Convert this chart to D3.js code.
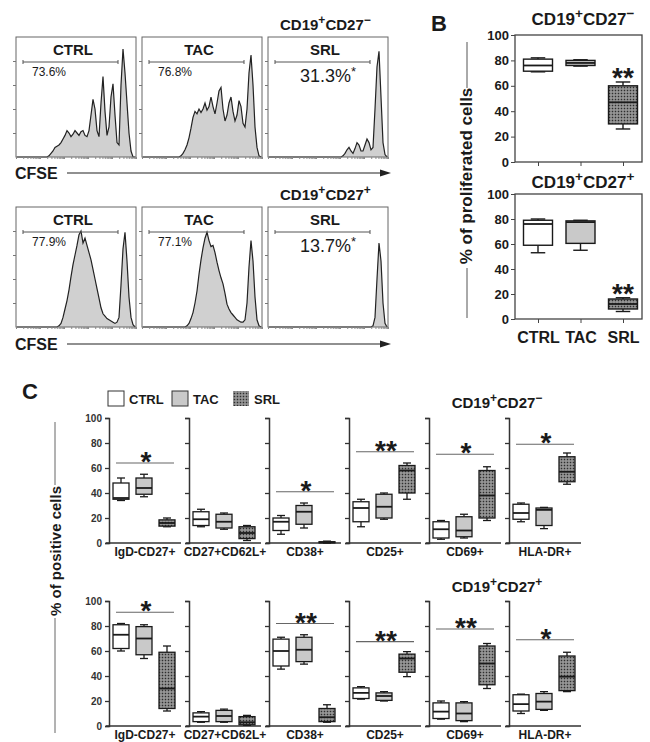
<!DOCTYPE html>
<html>
<head>
<meta charset="utf-8">
<script src="https://cdnjs.cloudflare.com/ajax/libs/d3/7.8.5/d3.min.js"></script>
<style>
  body { margin: 0; background: #fff; }
  svg { display: block; font-family: "Liberation Sans", Arial, sans-serif; }
</style>
</head>
<body>
<svg id="fig" width="650" height="742"></svg>
<script>
// ---------- data ----------
const groups = ["CTRL", "TAC", "SRL"];

// CFSE histograms: height (% of frame) per channel bin, low -> high CFSE
const cfseNegCtrl = [0,0,0,0,0,0,0,0,0,0,0,0,0,0,0,0, 1,3,5,8,9,10,12,15,18,22, 20,17,19,22,20,18,21,22,18,17, 22,35,48,40,22,17,45,67,38,18, 25,50,61,35,12,10,60,90,70,45, 20,5,0,0];
const cfseNegTac  = [0,0,0,0,0,0,0,0,0,0,0,0,0,0,0,0,0,0,0, 1,3,6,10,16,24,33,38,36,40, 37,40,45,39,42,50,42,36,45,55, 58,40,30,35,45,50,38,30,35,47, 42,28,25,40,70,85,60,25,8,1, 0];
const cfseNegSrl  = [0,0,0,0,0,0,0,0,0,0,0,0,0,0,0,0,0,0,0,0,0,0,0,0,0,0,0,0,0,0,0,0,0,0,0,0,0, 1,3,6,8,5,3,7,12,10,5, 5,10,15,12,6,8,40,75,88,50, 12,2,0];
const cfsePosCtrl = [0,0,0,0,0,0,0,0,0,0,0,0,0,0,0,0,0,0,0,0,0, 1,3,8,15,22,31,42,52,60,68, 77,80,70,74,68,62,56,48,40,32, 24,16,11,9,7,6,5,4,3,4, 8,35,65,79,55,25,8,2,0];
const cfsePosTac  = [0,0,0,0,0,0,0,0,0,0,0,0,0,0,0,0,0,0,0,0,0,0, 1,3,7,12,20,30,44,56,66,74, 79,72,67,68,62,54,47,41,36,28, 19,15,12,10,8,6,5,4,4,6, 20,50,72,55,25,6,1,0];
const cfsePosSrl  = [0,0,0,0,0,0,0,0,0,0,0,0,0,0,0,0,0,0,0,0,0,0,0,0,0,0,0,0,0,0,0,0,0,0,0,0,0,0,0,0,0,0,0,0,0,0,0,0,0,0,0,0, 1,8,40,70,55,20,3,0];
const pctNeg = ["73.6%", "76.8%", "31.3%"];
const pctPos = ["77.9%", "77.1%", "13.7%"];

// panel B: [min, q1, median, q3, max] for CTRL, TAC, SRL
const bNeg = [[71, 71.5, 76, 81, 82], [75.5, 76, 78, 80, 80.5], [26, 30, 47, 60, 63]];
const bPos = [[53, 59, 76, 79, 80], [55, 60.5, 77.5, 78.5, 79], [6, 8, 12, 16, 17]];

// panel C
const markers = ["IgD-CD27+", "CD27+CD62L+", "CD38+", "CD25+", "CD69+", "HLA-DR+"];
const cNegCtrl = [[34,35,36,48,52],[13,14,19,25,27],[7,10,17,20,22],[13,17,28,33,35],[3,4,11,17,18],[17,19,24,31,32]];
const cNegTac  = [[37,39,44,52,55],[11,12,17,23,24],[12,15,25,30,32],[19,20,29,39,40],[4,5,10,21,23],[11.5,14,26.5,28,28.5]];
const cNegSrl  = [[13,13.5,16,18.5,20],[2,3.5,8,13,14],[0,0.3,0.5,1,1.5],[35,40,58,62,64],[18,20,38,58,61],[47,49,57,69,72]];
const cPosCtrl = [[60,62,73,81,82],[3,3.5,7.5,10.5,11.5],[45.5,48,60,69.5,71],[21.5,22,26.5,30.5,31.5],[5.5,6,11.5,18.5,20],[10,12,17.5,25,25.5]];
const cPosTac  = [[54,57,70,79.5,81],[3,3.5,8,12.5,13.5],[49.5,51.5,61,71,73],[20,20.5,24,26.5,27.5],[3.5,4.3,10,18.5,19.5],[12.5,13.3,19.5,26,27.5]];
const cPosSrl  = [[12,14,30,59,64],[0.5,1,3,7.5,8.5],[3,3.5,7,14,17],[39.5,43,54,57.5,59.5],[30,33,50,64,66],[27.5,28.3,39.5,56,59]];
const sigNeg = [64, null, 41, 73, 71, 79];
const sigNegLabel = ["*", "", "*", "**", "*", "*"];
const sigPos = [91, null, 82, 67.5, 77.6, 69];
const sigPosLabel = ["*", "", "**", "**", "**", "*"];

// ---------- drawing ----------
const svg = d3.select("#fig");
const ink = "#1a1a1a";

const pat = svg.append("defs").append("pattern")
    .attr("id", "hatch").attr("width", 3).attr("height", 3)
    .attr("patternUnits", "userSpaceOnUse");
pat.append("rect").attr("width", 3).attr("height", 3).attr("fill", "#7e7e7e");
pat.append("rect").attr("width", 1).attr("height", 1).attr("fill", "#2e2e2e");
pat.append("rect").attr("x", 1.5).attr("y", 1.5).attr("width", 1).attr("height", 1).attr("fill", "#d6d6d6");

const fills = { CTRL: "#ffffff", TAC: "#c9c9c9", SRL: "url(#hatch)" };

// CD19+CD27± title with superscripts
function cdTitle(x, y, sign, size, anchor) {
  const t = svg.append("text")
      .attr("x", x).attr("y", y)
      .attr("font-size", size).attr("font-weight", "bold")
      .attr("fill", ink).attr("text-anchor", anchor || "start");
  const up = size * 0.42;
  t.append("tspan").text("CD19");
  t.append("tspan").attr("dy", -up).attr("font-size", size * 0.8).text("+");
  t.append("tspan").attr("dy", up).text("CD27");
  t.append("tspan").attr("dy", -up).attr("font-size", size * 0.8).text(sign);
}

function drawBox(g, cx, w, s, y, fill) {
  g.append("line").attr("x1", cx).attr("x2", cx).attr("y1", y(s[0])).attr("y2", y(s[1]));
  g.append("line").attr("x1", cx).attr("x2", cx).attr("y1", y(s[3])).attr("y2", y(s[4]));
  [s[0], s[4]].forEach(v => {
    g.append("line").attr("x1", cx - w / 4).attr("x2", cx + w / 4).attr("y1", y(v)).attr("y2", y(v));
  });
  g.append("rect")
      .attr("x", cx - w / 2).attr("y", y(s[3]))
      .attr("width", w).attr("height", Math.max(1, y(s[1]) - y(s[3])))
      .attr("fill", fill);
  g.append("line").attr("x1", cx - w / 2).attr("x2", cx + w / 2)
      .attr("y1", y(s[2])).attr("y2", y(s[2])).attr("stroke-width", 1.8);
}

// ---------- panel A: CFSE histograms ----------
const histLeft = [16, 142, 268];
const histRows = [
  { top: 37, data: [cfseNegCtrl, cfseNegTac, cfseNegSrl], pct: pctNeg, sign: "−", titleY: 30, cfseY: 173 },
  { top: 207, data: [cfsePosCtrl, cfsePosTac, cfsePosSrl], pct: pctPos, sign: "+", titleY: 200, cfseY: 344 }
];

histRows.forEach(row => {
  row.data.forEach((d, k) => {
    const x0 = histLeft[k];
    const x = d3.scaleLinear().domain([0, d.length - 1]).range([x0 + 1, x0 + 119]);
    const y = d3.scaleLinear().domain([0, 100]).range([row.top + 120, row.top]);
    const g = svg.append("g");

    g.append("path").datum(d)
        .attr("d", d3.area().x((v, i) => x(i)).y0(y(0)).y1(v => y(v)))
        .attr("fill", "#d0d0d0");
    g.append("path").datum(d)
        .attr("d", d3.line().x((v, i) => x(i)).y(v => y(v)))
        .attr("fill", "none").attr("stroke", "#222").attr("stroke-width", 1.2);

    g.append("rect").attr("x", x0).attr("y", row.top).attr("width", 120).attr("height", 120)
        .attr("fill", "none").attr("stroke", "#666");

    const ya = g.append("g").attr("transform", "translate(" + x0 + ",0)")
        .call(d3.axisLeft(y).tickValues([20, 40, 60, 80]).tickSize(3).tickFormat(""));
    ya.select(".domain").remove();
    ya.selectAll("line").attr("stroke", "#777");

    const logX = d3.scaleLog().domain([1, 1e5]).range([x0, x0 + 120]);
    const xa = g.append("g").attr("transform", "translate(0," + (row.top + 120) + ")")
        .call(d3.axisBottom(logX).tickSize(2).tickFormat(""));
    xa.select(".domain").remove();
    xa.selectAll("line").attr("stroke", "#888");

    // gate
    const gy = row.top + 25;
    g.append("line").attr("x1", x0 + 7).attr("x2", x0 + 102).attr("y1", gy).attr("y2", gy)
        .attr("stroke", "#555");
    [x0 + 7, x0 + 102].forEach(gx => g.append("line").attr("x1", gx).attr("x2", gx)
        .attr("y1", gy - 2).attr("y2", gy + 2).attr("stroke", "#555"));

    g.append("text").attr("x", x0 + 57).attr("y", row.top + 18)
        .attr("text-anchor", "middle").attr("font-size", 15).attr("font-weight", "bold")
        .attr("fill", ink).text(groups[k]);

    if (k < 2) {
      g.append("text").attr("x", x0 + 16).attr("y", row.top + 39)
          .attr("font-size", 12).attr("fill", ink).text(row.pct[k]);
    } else {
      const t = g.append("text").attr("x", x0 + 32).attr("y", row.top + 45)
          .attr("font-size", 18).attr("fill", ink).text(row.pct[k]);
      t.append("tspan").attr("dy", -6).attr("font-size", 13).text("*");
    }
  });

  cdTitle(280, row.titleY, row.sign, 15);

  svg.append("text").attr("x", 15).attr("y", row.cfseY + 6)
      .attr("font-size", 16).attr("font-weight", "bold").attr("fill", ink).text("CFSE");
  svg.append("line").attr("x1", 67).attr("x2", 382).attr("y1", row.cfseY).attr("y2", row.cfseY)
      .attr("stroke", "#222").attr("stroke-width", 1.2);
  svg.append("path")
      .attr("d", "M380," + (row.cfseY - 3.5) + "L391," + row.cfseY + "L380," + (row.cfseY + 3.5) + "Z")
      .attr("fill", "#222");
});

// ---------- panel B ----------
svg.append("text").attr("x", 431).attr("y", 31).attr("font-size", 22)
    .attr("font-weight", "bold").attr("fill", ink).text("B");

const bx = d3.scalePoint().domain(groups).range([538, 623]);
const bRows = [
  { stats: bNeg, top: 35, bottom: 162, sign: "−", titleY: 25 },
  { stats: bPos, top: 194, bottom: 319, sign: "+", titleY: 188 }
];

bRows.forEach((row, r) => {
  const y = d3.scaleLinear().domain([0, 100]).range([row.bottom, row.top]);
  const g = svg.append("g").attr("stroke", ink).attr("stroke-width", 1.4);

  g.append("rect").attr("x", 515).attr("y", row.top).attr("width", 127).attr("height", row.bottom - row.top)
      .attr("fill", "none").attr("stroke", "#444").attr("stroke-width", 1.3);

  const ya = svg.append("g").attr("transform", "translate(515,0)")
      .call(d3.axisLeft(y).tickValues([0, 20, 40, 60, 80, 100]).tickSize(4).tickPadding(2));
  ya.select(".domain").remove();
  ya.selectAll("line").attr("stroke", "#444");
  ya.selectAll("text").attr("font-size", 13).attr("font-weight", "bold")
      .attr("fill", ink).attr("font-family", "Liberation Sans, Arial, sans-serif");

  const xa = svg.append("g").attr("transform", "translate(0," + row.bottom + ")")
      .call(d3.axisBottom(bx).tickSize(4).tickPadding(9).tickFormat(r === 1 ? (d => d) : ""));
  xa.select(".domain").remove();
  xa.selectAll("line").attr("stroke", "#444");
  xa.selectAll("text").attr("font-size", 16).attr("font-weight", "bold")
      .attr("fill", ink).attr("font-family", "Liberation Sans, Arial, sans-serif");

  row.stats.forEach((s, k) => drawBox(g, bx(groups[k]), 29, s, y, fills[groups[k]]));

  svg.append("text").attr("x", bx("SRL")).attr("y", y(row.stats[2][4]) + 5)
      .attr("text-anchor", "middle").attr("font-size", 28).attr("font-weight", "bold")
      .attr("fill", ink).text("**");

  cdTitle(583, row.titleY, row.sign, 17, "middle");
});

svg.append("text")
    .attr("transform", "translate(472,176) rotate(-90)")
    .attr("text-anchor", "middle").attr("font-size", 17).attr("font-weight", "bold")
    .attr("fill", ink).text("% of proliferated cells");
[[42, 88], [268, 318]].forEach(p => svg.append("line")
    .attr("x1", 467).attr("x2", 467).attr("y1", p[0]).attr("y2", p[1])
    .attr("stroke", "#555"));

// ---------- panel C ----------
svg.append("text").attr("x", 22).attr("y", 399).attr("font-size", 22)
    .attr("font-weight", "bold").attr("fill", ink).text("C");

// legend
const legX = [108, 172, 233];
groups.forEach((gname, k) => {
  svg.append("rect").attr("x", legX[k]).attr("y", 391).attr("width", 16).attr("height", 15)
      .attr("fill", fills[gname]).attr("stroke", k < 2 ? "#333" : "none");
  svg.append("text").attr("x", legX[k] + 21).attr("y", 404)
      .attr("font-size", 13).attr("font-weight", "bold").attr("fill", ink).text(gname);
});

const cRows = [
  { data: [cNegCtrl, cNegTac, cNegSrl], sig: sigNeg, sigLabel: sigNegLabel, top: 418, bottom: 543, sign: "−", titleY: 408 },
  { data: [cPosCtrl, cPosTac, cPosSrl], sig: sigPos, sigLabel: sigPosLabel, top: 601, bottom: 726, sign: "+", titleY: 592 }
];

cRows.forEach(row => {
  const y = d3.scaleLinear().domain([0, 100]).range([row.bottom, row.top]);
  markers.forEach((m, i) => {
    const x0 = 109 + i * 80;
    const cx = d3.scalePoint().domain(groups).range([x0 + 12, x0 + 58]);

    const ya = svg.append("g").attr("transform", "translate(" + x0 + ",0)")
        .call(d3.axisLeft(y).tickValues([0, 20, 40, 60, 80, 100]).tickSize(4).tickPadding(3)
          .tickFormat(i === 0 ? d3.format("d") : ""));
    ya.select(".domain").attr("stroke", "#333").attr("stroke-width", 1.5);
    ya.selectAll("line").attr("stroke", "#333").attr("stroke-width", 1.3);
    ya.selectAll("text").attr("font-size", 10).attr("font-weight", "bold")
        .attr("fill", "#333").attr("font-family", "Liberation Sans, Arial, sans-serif");

    svg.append("line").attr("x1", x0 - 3).attr("x2", x0 + 72)
        .attr("y1", y(0)).attr("y2", y(0)).attr("stroke", "#333").attr("stroke-width", 1.6);

    const g = svg.append("g").attr("stroke", ink).attr("stroke-width", 1.3);
    row.data.forEach((arr, k) => drawBox(g, cx(groups[k]), 16, arr[i], y, fills[groups[k]]));

    if (row.sig[i] !== null) {
      const sy = y(row.sig[i]);
      svg.append("line").attr("x1", x0 + 7).attr("x2", x0 + 65).attr("y1", sy).attr("y2", sy)
          .attr("stroke", "#666").attr("stroke-width", 1.2);
      svg.append("text").attr("x", x0 + 37).attr("y", sy + 8)
          .attr("text-anchor", "middle").attr("font-size", 28).attr("font-weight", "bold")
          .attr("fill", ink).text(row.sigLabel[i]);
    }

    svg.append("text").attr("x", x0 + 36).attr("y", row.bottom + 13)
        .attr("text-anchor", "middle").attr("font-size", 12).attr("font-weight", "bold")
        .attr("fill", ink).text(m);
  });
  cdTitle(497, row.titleY, row.sign, 15, "middle");
});

svg.append("text")
    .attr("transform", "translate(61,551) rotate(-90)")
    .attr("text-anchor", "middle").attr("font-size", 15).attr("font-weight", "bold")
    .attr("fill", ink).text("% of positive cells");
[[422, 485], [618, 733]].forEach(p => svg.append("line")
    .attr("x1", 55).attr("x2", 55).attr("y1", p[0]).attr("y2", p[1])
    .attr("stroke", "#666"));
</script>
</body>
</html>
